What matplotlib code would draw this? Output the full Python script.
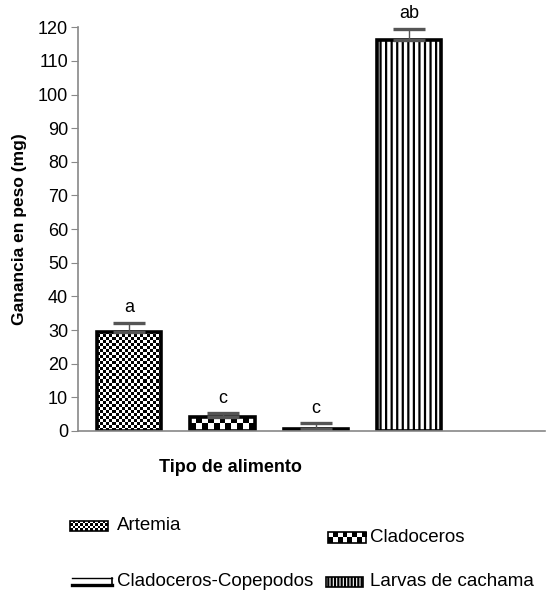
import numpy as np
import matplotlib
matplotlib.use("Agg")
import matplotlib.pyplot as plt
from matplotlib.patches import Rectangle

plt.rcParams['font.family'] = ['Liberation Sans', 'DejaVu Sans']
plt.rcParams['hatch.linewidth'] = 1.6

# data
alimentos = ["Artemia", "Cladoceros", "Cladoceros-Copepodos", "Larvas de cachama"]
ganancia = [29.5, 4.2, 0.5, 116.2]
error = [2.6, 1.0, 1.8, 3.4]
letras = ["a", "c", "c", "ab"]
# fill style per bar: checker cell size in px, or hatch
relleno = [("checker", 3), ("checker", 6), ("hatch", ""), ("hatch", "|||")]

W, H = 549, 592
fig = plt.figure(figsize=(W / 100, H / 100), dpi=100)
ax = fig.add_axes([0.142, 0.272, 0.851, 0.682])

XMIN, XMAX, YMAX = -0.55, 4.46, 120
ax_w_px = 0.851 * W
ax_h_px = 0.682 * H


def checker(nx, ny):
    return (np.indices((ny, nx)).sum(axis=0) % 2).astype(float)


x = np.arange(len(alimentos))
bw = 0.69
for xi, g, (kind, val) in zip(x, ganancia, relleno):
    if kind == "checker":
        wpx = bw / (XMAX - XMIN) * ax_w_px
        hpx = g / YMAX * ax_h_px
        nx = max(1, int(round(wpx / val)))
        ny = max(1, int(round(hpx / val)))
        ax.imshow(checker(nx, ny), cmap="gray_r", vmin=0, vmax=1,
                  extent=(xi - bw / 2, xi + bw / 2, 0, g), aspect="auto",
                  interpolation="nearest", zorder=1)
bars = ax.bar(x, ganancia, width=bw, color="none", edgecolor="black",
              linewidth=2.6, zorder=2)
for b, (kind, val) in zip(bars, relleno):
    if kind == "hatch":
        b.set_facecolor("white")
        b.set_hatch(val)

# error bars (upper only)
ax.errorbar(x, ganancia, yerr=[np.zeros(len(x)), error], fmt="none",
            ecolor="#555555", elinewidth=1, capsize=11.5, capthick=2.4,
            zorder=3)
for cap_x, g, e in zip(x, ganancia, error):
    pass

for xi, g, e, l in zip(x, ganancia, error, letras):
    ax.text(xi, g + e + 2, l, ha="center", va="bottom", fontsize=13)

ax.set_xlim(XMIN, XMAX)
ax.set_ylim(0, YMAX)
ax.set_yticks(np.arange(0, 121, 10))
ax.set_xticks([])
ax.tick_params(axis="y", labelsize=13, color="#888888", length=5, pad=2)
for s in ["top", "right"]:
    ax.spines[s].set_visible(False)
for s in ["left", "bottom"]:
    ax.spines[s].set_color("#888888")
    ax.spines[s].set_linewidth(1.2)
    ax.spines[s].set_zorder(4)

ax.set_ylabel("Ganancia en peso (mg)", fontsize=12.5, fontweight="bold",
              labelpad=8)
fig.text(230 / W, 1 - 467 / H, "Tipo de alimento", ha="center", va="center",
         fontsize=13, fontweight="bold")

# legend drawn by hand: handle box (px) and label position
leyenda = [(70, 521, 38, 10, 117, 526),
           (328, 532, 38, 11, 370, 537),
           (72, 578, 40, 8, 117, 582),
           (326, 577, 37, 10, 370, 582)]
for name, (kind, val), (hx, hy, hw, hh, tx, ty) in zip(alimentos, relleno, leyenda):
    lax = fig.add_axes([hx / W, 1 - (hy + hh) / H, hw / W, hh / H])
    lax.set_axis_off()
    lax.set_xlim(0, 1)
    lax.set_ylim(0, 1)
    if kind == "checker":
        cell = 2.5 if val == 3 else 4.5
        lax.imshow(checker(int(round(hw / cell)), int(round(hh / cell))),
                   cmap="gray_r", vmin=0, vmax=1, extent=(0, 1, 0, 1),
                   aspect="auto", interpolation="nearest")
        lax.add_patch(Rectangle((0, 0), 1, 1, fill=False, edgecolor="black",
                                linewidth=1.2, clip_on=False))
    elif val == "":
        lax.plot([0, 1], [0.95, 0.95], color="black", linewidth=1, clip_on=False)
        lax.plot([0, 1], [0.1, 0.1], color="black", linewidth=2.4, clip_on=False)
        lax.plot([1, 1], [0.1, 0.95], color="black", linewidth=1.2, clip_on=False)
    else:
        lax.add_patch(Rectangle((0, 0), 1, 1, facecolor="white", edgecolor="black",
                                hatch="|||||", linewidth=1.2, clip_on=False))
    fig.text(tx / W, 1 - ty / H, name, ha="left", va="center", fontsize=13.5)

fig.savefig("out.png", dpi=100)
